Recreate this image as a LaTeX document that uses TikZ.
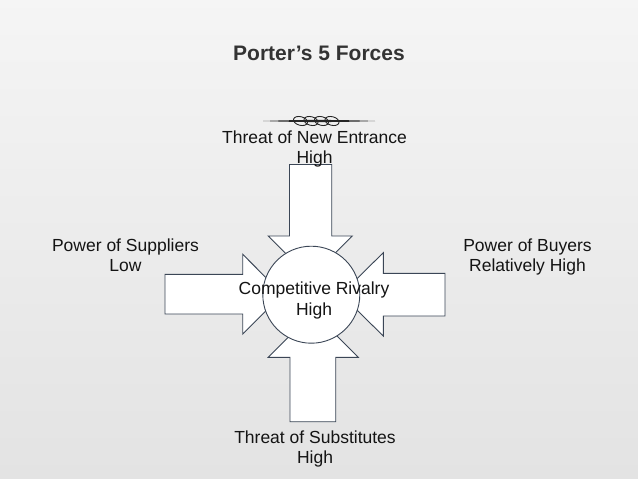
\documentclass[tikz,border=0pt]{standalone}
\usepackage{fontspec}
\setmainfont{Liberation Sans}
\begin{document}
\begin{tikzpicture}[x=1pt,y=-1pt,
  arrowshape/.style={fill=white,draw=arrowline,line width=0.9pt,line join=miter},
  lbl/.style={align=center,inner sep=0pt,font=\fontsize{17.5}{20}\selectfont,text=black!92}]
\definecolor{arrowline}{HTML}{3B4656}
\definecolor{titlegray}{HTML}{333333}
\useasboundingbox (0,0) rectangle (638,479);
\shade[top color=white!96!black,bottom color=white!89!black] (0,0) rectangle (638,479);

% ornament
\fill[black!85] (263,121) .. controls (300,119.6) and (338,119.6) .. (375,121)
  .. controls (338,122.4) and (300,122.4) .. (263,121) -- cycle;
\foreach \cx in {300.5,311,321.5,332}
  \draw[black!85,line width=0.9pt,rotate around={-15:(\cx,121)}] (\cx,121) ellipse [x radius=7.2pt,y radius=4.3pt];

% arrows
\draw[arrowshape] (289.5,164.5) -- (331.7,164.5) -- (331.7,236) -- (352.3,236)
  -- (310.3,278) -- (268.3,236) -- (289.5,236) -- cycle;
\draw[arrowshape] (165,274.3) -- (242.7,274.3) -- (242.7,254.3) -- (282.5,294.2)
  -- (242.7,334) -- (242.7,314) -- (165,314) -- cycle;
\draw[arrowshape] (445,273.3) -- (383.3,273.3) -- (383.3,252.7) -- (341,294.4)
  -- (383.3,336) -- (383.3,316) -- (445,316) -- cycle;
\draw[arrowshape] (290,421.7) -- (335.7,421.7) -- (335.7,357.3) -- (358.3,357.3)
  -- (313.3,312.3) -- (268.3,357.3) -- (290,357.3) -- cycle;

% centre
\node[circle,fill=white,draw=arrowline,line width=0.9pt,minimum size=97pt,inner sep=0pt] (core) at (311.3,294.7) {};

% labels
\node[inner sep=0pt,font=\fontsize{21}{25}\selectfont\bfseries,text=titlegray] (title) at (319,53.3) {Porter’s 5 Forces};
\node[lbl] (entr) at (314.5,148.7) {Threat of New Entrance\\High};
\node[lbl] (supp) at (125.5,255.5) {Power of Suppliers\\Low};
\node[lbl] (buy) at (527.5,257) {Power of Buyers\\Relatively High};
\node[lbl,font=\fontsize{17.5}{21}\selectfont] (riv) at (314,300.8) {Competitive Rivalry\\High};
\node[lbl] (subs) at (315,448.7) {Threat of Substitutes\\High};
\end{tikzpicture}
\end{document}
